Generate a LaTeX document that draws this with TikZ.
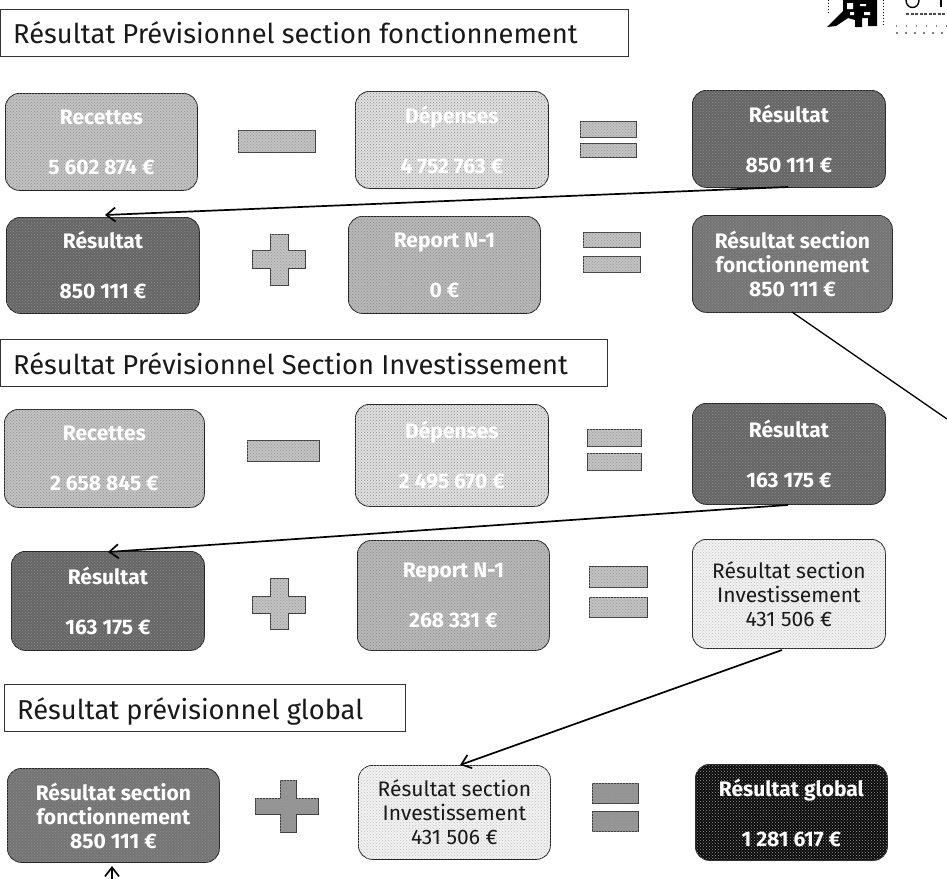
\documentclass[tikz,border=0pt]{standalone}
\usepackage{fontspec}
\setmainfont{Fira Sans}
\usetikzlibrary{arrows.meta,patterns}
\definecolor{gA}{gray}{0.76}
\definecolor{gB}{gray}{0.88}
\definecolor{gC}{gray}{0.40}
\definecolor{gD}{gray}{0.46}
\definecolor{gE}{gray}{0.72}
\definecolor{gF}{gray}{0.95}
\definecolor{gK}{gray}{0.04}
\definecolor{gS}{gray}{0.58}
\tikzset{
  x=1pt,y=-1pt,
  titlebox/.style={draw=black!80,line width=1pt,fill=white,inner sep=0pt},
  titletext/.style={font=\fontsize{27.3}{30}\selectfont,anchor=west,inner sep=0pt,text=black!90},
  card/.style={draw=black!85,line width=0.8pt,rounded corners=14pt,anchor=north west,
    postaction={pattern=crosshatch dots,pattern color=#1}},
  card/.default=black!45,
  cardtext/.style={font=\bfseries\fontsize{21}{24}\selectfont,text=white,align=center,inner sep=0pt},
  darktext/.style={font=\fontsize{21}{24}\selectfont,text=black!90,align=center,inner sep=0pt},
  sign/.style={draw=black!75,line width=0.7pt,fill=gA,postaction={pattern=crosshatch dots,pattern color=black!40}},
  link/.style={draw=black,line width=1.7pt,-{Straight Barb[length=9pt,width=14pt]}},
}
\begin{document}
\begin{tikzpicture}
\useasboundingbox (0,0) rectangle (947,878);
% logo fragment
\fill[black] (827,27) -- (843,11) -- (843,0) -- (877,0) -- (877,26) -- (868,26) -- (868,18) -- (862,18) -- (862,27) -- (855,27) -- (855,20) -- (848,18) -- (836,26) -- cycle;
\fill[white] (847,3) rectangle (853,9) (850,12) rectangle (854,15) (860,4) rectangle (866,6) (864,12) rectangle (870,15);
\draw[black,line width=1pt,dotted] (883,0) -- (883,25);
\draw[black,line width=1pt,dotted] (828,0) -- (828,14);
\draw[black,line width=1.4pt] (906,0) .. controls (906,10) and (919,10) .. (919,0);
\draw[black,line width=1.4pt] (941,0) -- (941,7);
\draw[black!70,line width=1.6pt,dash pattern=on 3pt off 1.5pt] (906,14) -- (947,14);
\draw[black!50,line width=1.2pt,dash pattern=on 1pt off 9pt] (896,26) -- (947,26);
\draw[black!50,line width=1.2pt,dash pattern=on 2pt off 7pt] (896,33) -- (947,33);
% titles
\draw[titlebox] (0,9) rectangle (628,56);
\node[titletext] (t1) at (13,33) {Résultat Prévisionnel section fonctionnement};
\draw[titlebox] (0,339) rectangle (607,386);
\node[titletext] (t2) at (13,364) {Résultat Prévisionnel Section Investissement};
\draw[titlebox] (4,684) rectangle (405,731);
\node[titletext] (t3) at (17,711) {Résultat prévisionnel global};
% row 1
\node[card,fill=gA,minimum width=192pt,minimum height=97pt,cardtext] (a1) at (5,93) {Recettes\\[26pt]5 602 874 €};
\node[card,fill=gB,minimum width=193pt,minimum height=97pt,cardtext] (a2) at (355,91) {Dépenses\\[26pt]4 752 763 €};
\node[card,fill=gC,minimum width=193pt,minimum height=97pt,cardtext] (a3) at (692,90) {Résultat\\[26pt]850 111 €};
\draw[sign] (238,130) rectangle (315,152);
\draw[sign] (580,121) rectangle (636,137);
\draw[sign] (580,143) rectangle (636,157);
% row 2
\node[card,fill=gC,minimum width=193pt,minimum height=96pt,cardtext] (b1) at (6,217) {Résultat\\[26pt]850 111 €};
\node[card,fill=gE,minimum width=192pt,minimum height=97pt,cardtext] (b2) at (348,216) {Report N-1\\[26pt]0 €};
\node[card,fill=gD,minimum width=200pt,minimum height=97pt,cardtext] (b3) at (692,215) {Résultat section\\fonctionnement\\850 111 €};
\draw[sign] (270,234) -- (288,234) -- (288,250) -- (305,250) -- (305,268) -- (288,268) -- (288,285) -- (270,285) -- (270,268) -- (252,268) -- (252,250) -- (270,250) -- cycle;
\draw[sign] (583,232) rectangle (640,247);
\draw[sign] (583,256) rectangle (640,272);
% row 3
\node[card,fill=gA,minimum width=200pt,minimum height=98pt,cardtext] (c1) at (4,409) {Recettes\\[26pt]2 658 845 €};
\node[card,fill=gB,minimum width=193pt,minimum height=102pt,cardtext] (c2) at (355,404) {Dépenses\\[26pt]2 495 670 €};
\node[card,fill=gC,minimum width=193pt,minimum height=101pt,cardtext] (c3) at (692,403) {Résultat\\[26pt]163 175 €};
\draw[sign] (247,440) rectangle (319,461);
\draw[sign] (587,429) rectangle (641,446);
\draw[sign] (587,453) rectangle (641,470);
% row 4
\node[card,fill=gC,minimum width=193pt,minimum height=99pt,cardtext] (d1) at (11,551) {Résultat\\[26pt]163 175 €};
\node[card,fill=gE,minimum width=192pt,minimum height=110pt,cardtext] (d2) at (357,540) {Report N-1\\[26pt]268 331 €};
\node[card=black!25,fill=gF,minimum width=193pt,minimum height=109pt,darktext] (d3) at (692,539) {Résultat section\\Investissement\\431 506 €};
\draw[sign] (270,578) -- (288,578) -- (288,596) -- (305,596) -- (305,613) -- (288,613) -- (288,629) -- (270,629) -- (270,613) -- (252,613) -- (252,596) -- (270,596) -- cycle;
\draw[sign] (589,566) rectangle (647,587);
\draw[sign] (589,597) rectangle (647,617);
% row 5
\node[card,fill=gD,minimum width=212pt,minimum height=94pt,cardtext] (e1) at (7,768) {Résultat section\\fonctionnement\\850 111 €};
\node[card=black!25,fill=gF,minimum width=192pt,minimum height=94pt,darktext] (e2) at (358,765) {Résultat section\\Investissement\\431 506 €};
\node[card=white!60!black,fill=gK,minimum width=192pt,minimum height=96pt,cardtext] (e3) at (695,764) {Résultat global\\[26pt]1 281 617 €};
\draw[sign,fill=gS] (280,780) -- (296,780) -- (296,798) -- (318,798) -- (318,814) -- (296,814) -- (296,832) -- (280,832) -- (280,814) -- (255,814) -- (255,798) -- (280,798) -- cycle;
\draw[sign,fill=gS] (592,783) rectangle (638,803);
\draw[sign,fill=gS] (592,811) rectangle (638,831);
% connectors
\coordinate (a3foot) at (788,187);
\coordinate (b1head) at (105,215);
\draw[link] (a3foot) -- (b1head);
\coordinate (c3foot) at (788,505);
\coordinate (d1head) at (108,552);
\draw[link] (c3foot) -- (d1head);
\coordinate (d3foot) at (782,650);
\coordinate (e2head) at (460,765);
\draw[link] (d3foot) -- (e2head);
\coordinate (b3foot) at (792,312);
\coordinate (offpage) at (947,419);
\draw[line width=1.3pt,black] (b3foot) -- (offpage);
\coordinate (pagefoot) at (112,880);
\coordinate (e1foot) at (112,866);
\draw[link] (pagefoot) -- (e1foot);
\end{tikzpicture}
\end{document}
